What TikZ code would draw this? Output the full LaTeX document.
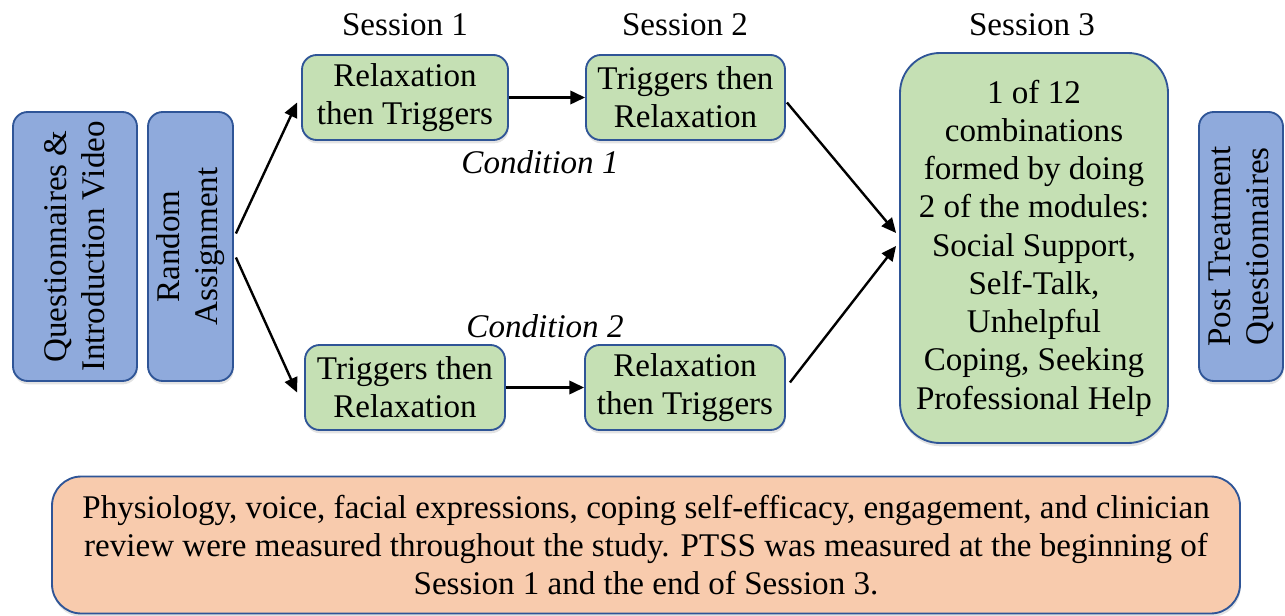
\documentclass[tikz,border=0pt]{standalone}
\usepackage{fontspec}
\setmainfont{Liberation Serif}
\newfontfamily\tnrfam{Liberation Serif}
\usetikzlibrary{shadows,arrows.meta,calc}
\definecolor{bfill}{HTML}{8FAADC}
\definecolor{bline}{HTML}{2F5597}
\definecolor{gfill}{HTML}{C5E0B4}
\definecolor{pfill}{HTML}{F8CBAD}
\tikzset{
  px/.style={x=0.75pt,y=-0.75pt},
  box/.style={draw=bline, line width=1.4pt, rounded corners=11pt, align=center,
     inner sep=0pt, font=\tnrfam\fontsize{24.8}{28.7}\selectfont,
     drop shadow={opacity=0.22, shadow xshift=0.5pt, shadow yshift=-2.5pt}},
  bluebox/.style={box, fill=bfill, rotate=90, minimum width=201.75pt},
  greenbox/.style={box, fill=gfill, minimum height=63.75pt},
  lbl/.style={font=\tnrfam\fontsize{24.8}{28.7}\selectfont, inner sep=0pt},
  conn/.style={draw=black, line width=1.8pt, -{Triangle[length=11pt,width=10pt]}}
}
\begin{document}
\begin{tikzpicture}[px]
\useasboundingbox (0,0) rectangle (1285,616);
% left blue boxes
\node[bluebox, minimum height=93pt] (q) at (75,246.5) {Questionnaires \&\\Introduction Video};
\node[bluebox, minimum height=63.75pt] (ra) at (190.5,246.5) {Random\\Assignment};
\node[bluebox, minimum height=63pt] (pt) at (1241,246.5) {Post Treatment\\Questionnaires};
% session labels
\node[lbl] (s1) at (405,25) {Session 1};
\node[lbl] (s2) at (685,25) {Session 2};
\node[lbl] (s3l) at (1032,25) {Session 3};
% green boxes
\node[greenbox, minimum width=154.5pt] (c1a) at (405,97.5) {Relaxation\\then Triggers};
\node[greenbox, minimum width=149.25pt] (c1b) at (685.5,97.5) {Triggers then\\Relaxation};
\node[greenbox, minimum width=150pt] (c2a) at (405,387.5) {Triggers then\\Relaxation};
\node[greenbox, minimum width=150pt] (c2b) at (685,387.5) {Relaxation\\then Triggers};
\node[lbl, font=\tnrfam\fontsize{24.8}{28.7}\selectfont\itshape] (cond1) at (540,162) {Condition 1};
\node[lbl, font=\tnrfam\fontsize{24.8}{28.7}\selectfont\itshape] (cond2) at (545,326) {Condition 2};
% session 3 box
\node[box, fill=gfill, rounded corners=30pt, minimum width=201pt, minimum height=292.5pt] (s3) at (1034,248)
 {1 of 12\\combinations\\formed by doing\\2 of the modules:\\Social Support,\\Self-Talk,\\Unhelpful\\Coping, Seeking\\Professional Help};
% bottom box
\node[box, fill=pfill, rounded corners=22pt, minimum width=891pt, minimum height=102.75pt] (bot) at (646,545)
 {Physiology, voice, facial expressions, coping self-efficacy, engagement, and clinician\\
  review were measured throughout the study. PTSS was measured at the beginning of\\
  Session 1 and the end of Session 3.};
% connectors
\coordinate (raU) at ($(ra.south)+(2,-13)$);
\coordinate (raD) at ($(ra.south)+(2,11)$);
\draw[conn] (raU) -- ($(c1a.west)+(-4,5)$);
\draw[conn] (raD) -- ($(c2a.west)+(-7,5)$);
\draw[conn] (c1a.east) -- (c1b.west);
\draw[conn] (c2a.east) -- (c2b.west);
\draw[conn] ($(c1b.east)+(1,5)$) -- ($(s3.west)+(-3,-15)$);
\draw[conn] ($(c2b.east)+(4,-5)$) -- ($(s3.west)+(-3,-2)$);
\end{tikzpicture}
\end{document}
